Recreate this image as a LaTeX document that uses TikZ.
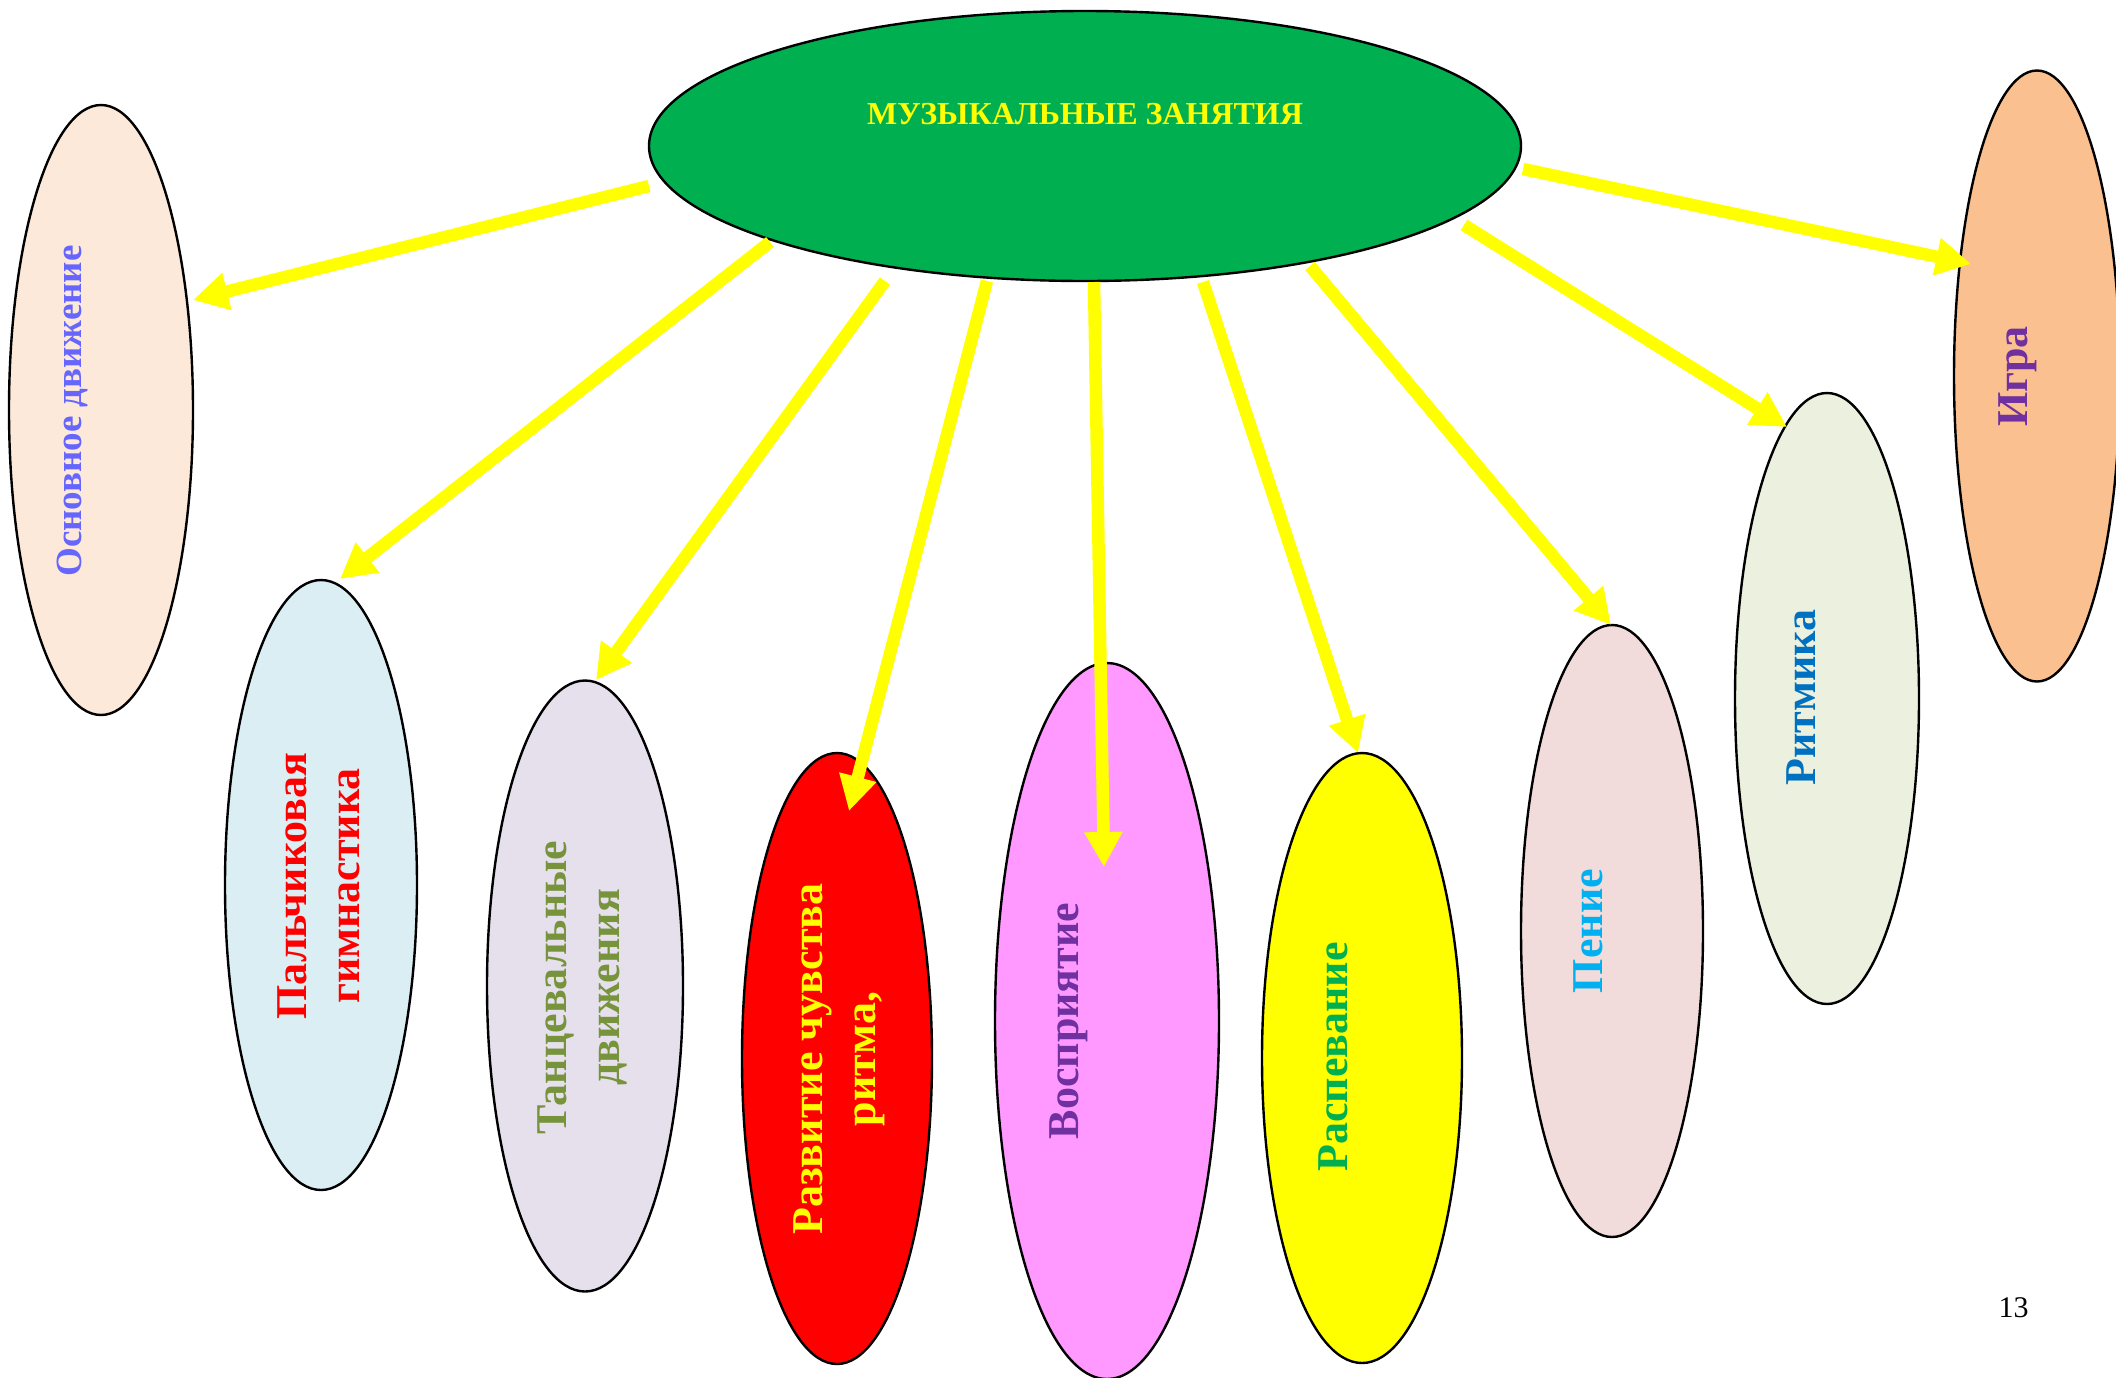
\documentclass[tikz,border=0pt]{standalone}
\usepackage{fontspec}
\setmainfont{Liberation Serif}
\usetikzlibrary{shapes.geometric,arrows.meta}
\definecolor{cGreen}{HTML}{00B050}
\definecolor{cYel}{HTML}{FFFF00}
\definecolor{fOsn}{HTML}{FDE9D9}
\definecolor{tOsn}{HTML}{6666FF}
\definecolor{fPal}{HTML}{DAEEF3}
\definecolor{tPal}{HTML}{FF0000}
\definecolor{fTan}{HTML}{E5E0EC}
\definecolor{tTan}{HTML}{77933C}
\definecolor{fRaz}{HTML}{FF0000}
\definecolor{fVos}{HTML}{FF99FF}
\definecolor{tVos}{HTML}{7030A0}
\definecolor{tRas}{HTML}{00B050}
\definecolor{fPen}{HTML}{F2DCDB}
\definecolor{tPen}{HTML}{00B0F0}
\definecolor{fRit}{HTML}{EBF1DE}
\definecolor{tRit}{HTML}{0070C0}
\definecolor{fIgr}{HTML}{FAC090}
\begin{document}
\begin{tikzpicture}[x=0.5pt,y=-0.5pt,
  oval/.style={ellipse, draw=black, line width=1.2pt, inner sep=0pt, outer sep=0pt},
  lbl/.style={rotate=90, inner sep=0pt, align=center, font=\fontsize{22}{26.5}\selectfont\bfseries},
  arr/.style={draw=cYel, line width=6.25pt, -{Triangle[width=18pt,length=17.5pt]}}]
\useasboundingbox[fill=white] (0,0) rectangle (2116,1377);

% ellipses
\node[oval, fill=cGreen, minimum width=436pt, minimum height=135pt] (main) at (1085,146) {};
\node[oval, fill=fOsn, minimum width=92pt, minimum height=305pt] (osn) at (101,410) {};
\node[oval, fill=fPal, minimum width=96pt, minimum height=305pt] (pal) at (321,885) {};
\node[oval, fill=fTan, minimum width=98pt, minimum height=305.5pt] (tan) at (585,986) {};
\node[oval, fill=fRaz, minimum width=95pt, minimum height=305.5pt] (raz) at (837,1058.5) {};
\node[oval, fill=fVos, minimum width=112pt, minimum height=358pt] (vos) at (1107,1021) {};
\node[oval, fill=cYel, minimum width=100pt, minimum height=305pt] (ras) at (1362,1058) {};
\node[oval, fill=fPen, minimum width=91pt, minimum height=306pt] (pen) at (1612,931) {};
\node[oval, fill=fRit, minimum width=92pt, minimum height=305.5pt] (rit) at (1827,698.5) {};
\node[oval, fill=fIgr, minimum width=83pt, minimum height=305.5pt] (igr) at (2037,376) {};

% arrow end points
\coordinate (s1) at (649,186);  \coordinate (e1) at (193,300);
\coordinate (s2) at (770,242);  \coordinate (e2) at (340,579);
\coordinate (s3) at (885,281);  \coordinate (e3) at (596,680);
\coordinate (s4) at (987,281);  \coordinate (e4) at (849,811);
\coordinate (s5) at (1094,282); \coordinate (e5) at (1104,867);
\coordinate (s6) at (1203,282); \coordinate (e6) at (1358,753);
\coordinate (s7) at (1310,266); \coordinate (e7) at (1611,625);
\coordinate (s8) at (1464,225); \coordinate (e8) at (1787,427);
\coordinate (s9) at (1523,169); \coordinate (e9) at (1971,264);

\foreach \i in {1,...,9} { \draw[arr] (s\i) -- (e\i); }

% labels
\node[font=\fontsize{16}{19}\selectfont\bfseries, text=cYel, inner sep=0pt] (mainT) at (1085,114.5) {МУЗЫКАЛЬНЫЕ ЗАНЯТИЯ};
\node[lbl, text=tOsn, font=\fontsize{18.5}{22}\selectfont\bfseries] (osnT) at (72.5,411) {Основное движение};
\node[lbl, text=tPal] (palT) at (319,886) {Пальчиковая\\гимнастика};
\node[lbl, text=tTan] (tanT) at (582.5,987.5) {Танцевальные\\движения};
\node[lbl, text=cYel] (razT) at (839,1059) {Развитие чувства\\ритма,};
\node[lbl, text=tVos] (vosT) at (1068.5,1021) {Восприятие};
\node[lbl, text=tRas] (rasT) at (1333.5,1057) {Распевание};
\node[lbl, text=tPen] (penT) at (1588.5,931) {Пение};
\node[lbl, text=tRit] (ritT) at (1801,697.5) {Ритмика};
\node[lbl, text=tVos] (igrT) at (2018,376.5) {Игра};
\node[font=\fontsize{15}{18}\selectfont, inner sep=0pt] (pg) at (2013.5,1308) {13};
\end{tikzpicture}
\end{document}
